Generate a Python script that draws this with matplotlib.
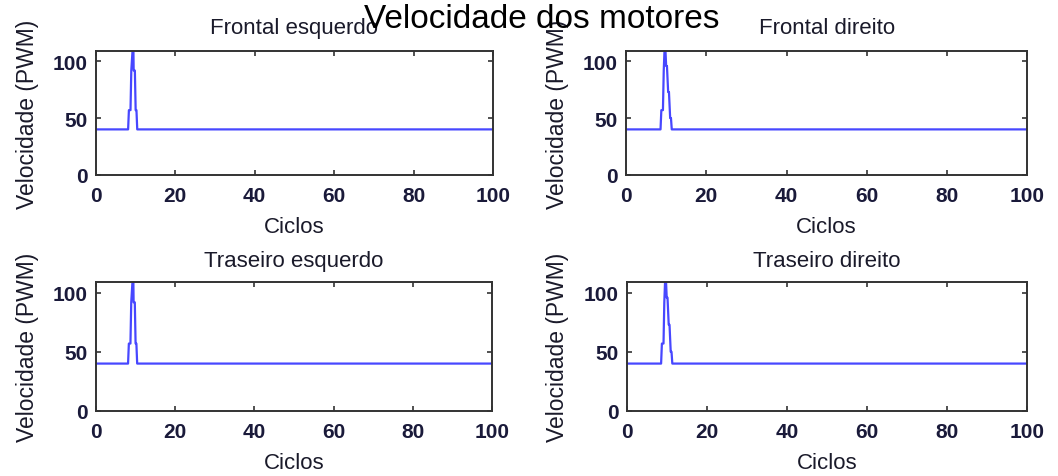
import matplotlib

matplotlib.use("Agg")
import matplotlib.pyplot as plt

# PWM commanded to each motor over the control cycles
ciclos_esq = [0, 8.1, 8.3, 8.7, 8.9, 9.4, 9.5, 9.8, 10.0, 10.2, 10.4, 100]
pwm_esq = [40, 40, 57, 57, 92, 120, 92, 92, 57, 57, 40, 40]

ciclos_dir = [0, 8.6, 8.8, 9.2, 9.4, 9.7, 10.0, 10.2, 10.5, 10.7, 11.0, 11.2, 11.4, 100]
pwm_dir = [40, 40, 57, 57, 92, 120, 96, 96, 73, 73, 50, 50, 40, 40]

titulos = ["Frontal esquerdo", "Frontal direito", "Traseiro esquerdo", "Traseiro direito"]
series = [(ciclos_esq, pwm_esq), (ciclos_dir, pwm_dir), (ciclos_esq, pwm_esq), (ciclos_dir, pwm_dir)]
x_ticks = [0, 20, 40, 60, 80, 100]
y_ticks = [0, 50, 100]

plt.rcParams["font.family"] = ["Liberation Sans", "DejaVu Sans"]

fig = plt.figure(figsize=(10.58, 4.77), dpi=100)
posicoes = [
    [0.0907, 0.6317, 0.3752, 0.2587],
    [0.5917, 0.6317, 0.3793, 0.2587],
    [0.0907, 0.1369, 0.3746, 0.2692],
    [0.5923, 0.1369, 0.3786, 0.2692],
]
title_pads = [13.5, 13.5, 11.5, 11.5]

for pos, titulo, (x, y), tpad in zip(posicoes, titulos, series, title_pads):
    ax = fig.add_axes(pos)
    ax.plot(x, y, color=(0.28, 0.28, 1.0), linewidth=1.6)
    ax.set_xlim(0, 100)
    ax.set_ylim(0, 109)
    ax.set_xticks(x_ticks)
    ax.set_yticks(y_ticks)
    ax.tick_params(direction="in", top=True, right=True, length=3.5, width=1.2,
                   labelsize=15, colors="#333333", labelcolor="#1a1a3a")
    ax.tick_params(axis="x", pad=8)
    ax.tick_params(axis="y", pad=6)
    for lbl in ax.get_xticklabels() + ax.get_yticklabels():
        lbl.set_fontweight("bold")
    for spine in ax.spines.values():
        spine.set_linewidth(1.4)
        spine.set_color("#333333")
    ax.set_title(titulo, fontsize=16, pad=tpad, color="#1a1a2a")
    ax.set_xlabel("Ciclos", fontsize=16, labelpad=8, color="#1a1a2a")
    ax.set_ylabel("Velocidade (PWM)", fontsize=16.5, labelpad=10, color="#1a1a2a")

fig.text(0.512, 0.941, "Velocidade dos motores", ha="center", va="baseline",
         fontsize=24, color="black")

fig.savefig("out.png", dpi=100)
